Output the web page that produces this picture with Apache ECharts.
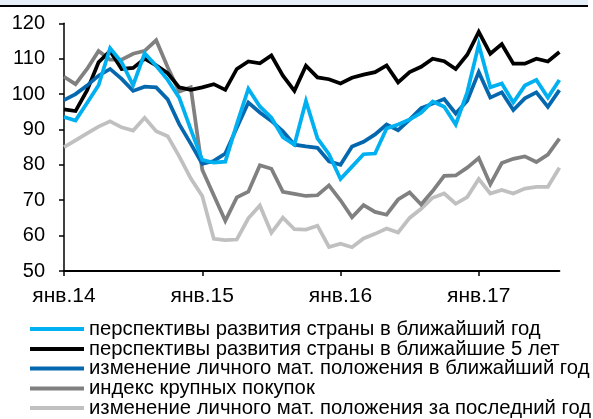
<!DOCTYPE html>
<html>
<head>
<meta charset="utf-8">
<script src="https://cdn.jsdelivr.net/npm/echarts@6/dist/echarts.min.js"></script>
<style>
  html, body { margin: 0; padding: 0; background: #fff; }
  #main { width: 593px; height: 419px; }
</style>
</head>
<body>
<div id="main"></div>
<script>
// months Jan 2014 .. Aug 2017
const monthNames = ['янв', 'фев', 'мар', 'апр', 'май', 'июн', 'июл', 'авг', 'сен', 'окт', 'ноя', 'дек']
const years = ['14', '15', '16', '17']
const monthCount = 44
const categories = []
for (let i = 0; i < monthCount; i++) {
  categories.push(monthNames[i % 12] + '.' + years[Math.floor(i / 12)])
}

const perspYear = [93.5, 92.5, 97.5, 102.5, 113, 109, 102.5, 111.5, 108, 104, 99, 90,
  81.4, 80.6, 80.9, 91.5, 101.5, 96.5, 93.3, 87.8, 85.7, 98, 87.5, 83,
  76, 79.5, 83, 83.2, 90.3, 91.4, 92.8, 94.7, 97.9, 96.4, 91.4, 100.5,
  114, 101.9, 103, 97.6, 102.4, 104, 99, 104]
const persp5 = [95.7, 95.2, 101, 109, 112.2, 107.1, 107.4, 110, 108.1, 105.9, 101.9, 101.2,
  101.9, 102.8, 101.2, 107.1, 109.2, 108.7, 110.9, 105.2, 100.9, 108, 104.7, 104.2,
  103, 104.6, 105.5, 106.2, 108.1, 103.3, 106.2, 107.7, 110, 109.3, 107.1, 111.1,
  117.6, 111.4, 114.1, 108.6, 108.6, 110, 109.2, 111.9]
const personalNext = [98.3, 100, 102.4, 105.2, 107.1, 104.3, 100.9, 102.1, 101.9, 98.5, 91.5, 86,
  80.3, 81.1, 83.2, 90.5, 97.6, 94.8, 92.4, 89.5, 85.7, 85.2, 84.8, 81,
  80, 85.2, 86.5, 88.6, 91.4, 89.8, 92.8, 96, 97.3, 98.6, 94.5, 98.1,
  106.2, 99, 100.5, 95.5, 98.8, 100.5, 96.4, 101.1]
const bigPurchases = [104.9, 102.8, 107.1, 112.2, 109.7, 109.7, 111.4, 112.2, 115.2, 107.6, 100.7, 101.9,
  78.6, 71.4, 64.2, 70.8, 72.4, 79.9, 78.9, 72.4, 71.8, 71.2, 71.4, 74.2,
  70, 65.2, 68.6, 66.7, 65.9, 70.2, 72.2, 68.8, 72.6, 76.9, 77, 79.2,
  81.9, 74.5, 80.5, 81.7, 82.4, 80.8, 82.9, 87.4]
const personalPast = [85, 86.9, 88.9, 90.8, 92.3, 90.6, 89.7, 93.3, 89.5, 88.1, 82.4, 76.2,
  71.2, 59.1, 58.7, 58.9, 64.9, 68.5, 60.8, 65.1, 61.8, 61.7, 62.8, 56.8,
  57.7, 56.7, 59.2, 60.5, 62, 60.9, 65, 67.6, 70.7, 71.9, 69, 70.9,
  76, 71.9, 72.9, 71.9, 73.3, 73.8, 73.8, 79.2]

const seriesNames = [
  'перспективы развития страны в ближайший год',
  'перспективы развития страны в ближайшие 5 лет',
  'изменение личного мат. положения в ближайший год',
  'индекс крупных покупок',
  'изменение личного мат. положения за последний год'
]
const seriesData = [perspYear, persp5, personalNext, bigPurchases, personalPast]
const colors = ['#00B0F0', '#000000', '#0568AE', '#808080', '#C0C0C0']
// draw order: light grey at the back, light blue on top
const drawOrder = [4, 3, 1, 2, 0]
const legendRowTop = [319, 339, 358.5, 378.5, 398]

const font = 'Liberation Sans, Arial, sans-serif'
const chart = echarts.init(document.getElementById('main'))

const series = drawOrder.map(function(k, n) {
  return {
    name: seriesNames[k],
    type: 'line',
    data: seriesData[k],
    symbol: 'none',
    color: colors[k],
    z: 2 + n,
    lineStyle: { width: 3.75, color: colors[k], join: 'miter' }
  }
})

// one legend per row so nothing wraps into a second column
const legends = seriesNames.map(function(name, k) {
  return {
    orient: 'vertical',
    left: 30,
    top: legendRowTop[k],
    padding: 0,
    itemWidth: 54,
    itemHeight: 4,
    itemGap: 0,
    icon: 'rect',
    data: [name],
    textStyle: { fontFamily: font, fontSize: 20.3, color: '#000', lineHeight: 20 }
  }
})

chart.setOption({
  animation: false,
  textStyle: { fontFamily: font },
  graphic: [
    { type: 'rect', left: 0, top: 0, shape: { width: 588, height: 5 }, style: { fill: '#E6EEF7' }, silent: true },
    { type: 'rect', left: 0, top: 5, shape: { width: 588, height: 2 }, style: { fill: '#000' }, silent: true }
  ],
  grid: {
    left: 64,
    top: 23.3,
    width: 495.4,
    height: 247.7,
    containLabel: false
  },
  legend: legends,
  xAxis: {
    type: 'category',
    data: categories,
    boundaryGap: false,
    axisLine: { lineStyle: { color: '#000', width: 2 } },
    axisTick: {
      length: 5,
      interval: function(i) { return i % 12 === 0 },
      lineStyle: { color: '#000', width: 1.5 }
    },
    axisLabel: {
      interval: function(i) { return i % 12 === 0 },
      color: '#000',
      fontSize: 21,
      fontFamily: font,
      margin: 15
    },
    splitLine: { show: false }
  },
  yAxis: {
    type: 'value',
    min: 50,
    max: 120,
    interval: 10,
    axisLine: { show: true, lineStyle: { color: '#000', width: 1.5 } },
    axisTick: { show: true, length: 5, lineStyle: { color: '#000', width: 1.5 } },
    axisLabel: { color: '#000', fontSize: 20, fontFamily: font, margin: 19 },
    splitLine: { show: false }
  },
  series: series
})
</script>
</body>
</html>
